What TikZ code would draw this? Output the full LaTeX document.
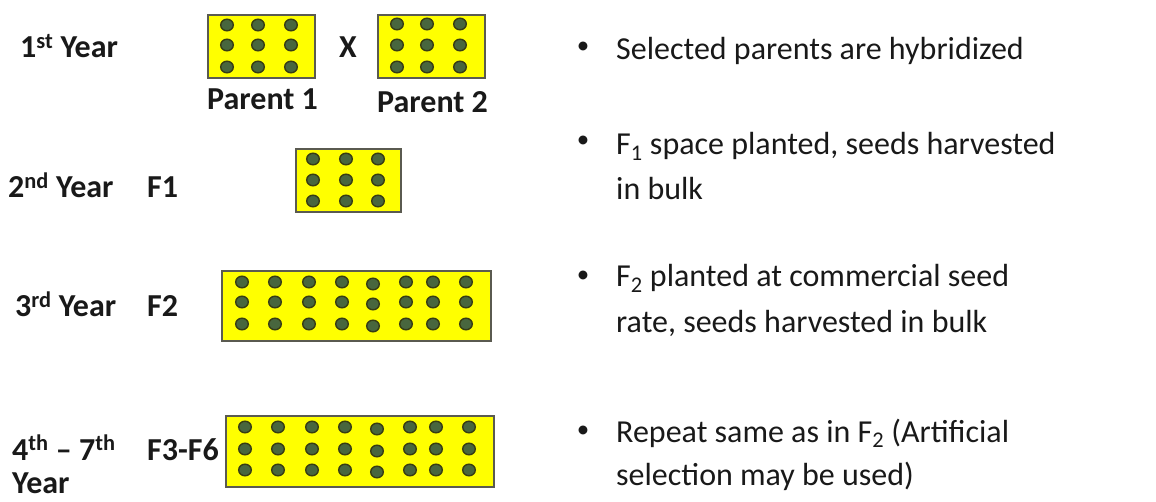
\documentclass[tikz,border=0pt]{standalone}
\usepackage{fontspec}
\setmainfont{Carlito}
\definecolor{boxyellow}{RGB}{255,255,0}
\definecolor{boxedge}{RGB}{90,90,80}
\definecolor{seedfill}{RGB}{72,102,62}
\definecolor{seededge}{RGB}{55,60,20}
\definecolor{txt}{RGB}{25,25,25}
\tikzset{
  plot/.style={fill=boxyellow, draw=boxedge, line width=1.3pt},
  seed/.style={fill=seedfill, draw=seededge, line width=1.4pt},
  lbl/.style={anchor=base west, inner sep=0pt, font=\fontsize{32}{40}\selectfont\bfseries, text=txt},
  desc/.style={anchor=base west, inner sep=0pt, font=\fontsize{32}{45}\selectfont, text=txt},
  bul/.style={anchor=center, inner sep=0pt, font=\fontsize{25}{28}\selectfont, text=txt},
}
\begin{document}
\begin{tikzpicture}[x=1pt,y=-1pt]
\useasboundingbox (0,0) rectangle (1156,502);
% left labels
\node[lbl] (y1) at (20,58) {1\textsuperscript{st} Year};
\node[lbl, anchor=base] (x) at (348,58) {X};
\node[lbl] (p1) at (207,110) {Parent 1};
\node[lbl] (p2) at (377,113) {Parent 2};
\node[lbl] (y2) at (8,198) {2\textsuperscript{nd} Year};
\node[lbl] (f1) at (147,198) {F1};
\node[lbl] (y3) at (15,317) {3\textsuperscript{rd} Year};
\node[lbl] (f2) at (147,317) {F2};
\node[lbl] (y4) at (12,460) {4\textsuperscript{th} – 7\textsuperscript{th}};
\node[lbl] (y4b) at (12,493) {Year};
\node[lbl] (f36) at (147,460) {F3-F6};
% plots
\draw[plot] (208,15) rectangle (315,78);
\draw[plot] (378,15) rectangle (485,78);
\draw[plot] (296,149) rectangle (401,212);
\draw[plot] (222,271) rectangle (491,341);
\draw[plot] (226,416) rectangle (494,487);
% seeds
\foreach \x in {227,258,291} \foreach \y in {25,45,67} \draw[seed] (\x,\y) ellipse [x radius=6.3, y radius=5.8];
\foreach \x in {397,427,460} \foreach \y in {24,45,67} \draw[seed] (\x,\y) ellipse [x radius=6.3, y radius=5.8];
\foreach \x in {313,346,378} \foreach \y in {159,180,201} \draw[seed] (\x,\y) ellipse [x radius=6.3, y radius=5.8];
\foreach \x/\d in {242/0,275/0,309/0,342/0,373/2,406/0,433/0,466/0} \foreach \y in {282,302,324} \draw[seed] (\x,\y+\d) ellipse [x radius=6.3, y radius=5.8];
\foreach \x/\d in {245/0,278/0,312/0,345/0,377/2,410/0,436/0,469/0} \foreach \y in {427,449,470} \draw[seed] (\x,\y+\d) ellipse [x radius=6.3, y radius=5.8];
% right descriptions
\node[bul] (b1) at (583,48) {•};
\node[desc] (d1) at (616,60) {Selected parents are hybridized};
\node[bul] (b2) at (583,142) {•};
\node[desc] (d2) at (616,155) {F\textsubscript{1} space planted, seeds harvested};
\node[desc] (d2b) at (616,200) {in bulk};
\node[bul] (b3) at (583,277) {•};
\node[desc] (d3) at (616,287) {F\textsubscript{2} planted at commercial seed};
\node[desc] (d3b) at (616,333) {rate, seeds harvested in bulk};
\node[bul] (b4) at (583,432) {•};
\node[desc] (d4) at (616,442) {Repeat same as in F\textsubscript{2} (Artificial};
\node[desc] (d4b) at (616,485) {selection may be used)};
\end{tikzpicture}
\end{document}
